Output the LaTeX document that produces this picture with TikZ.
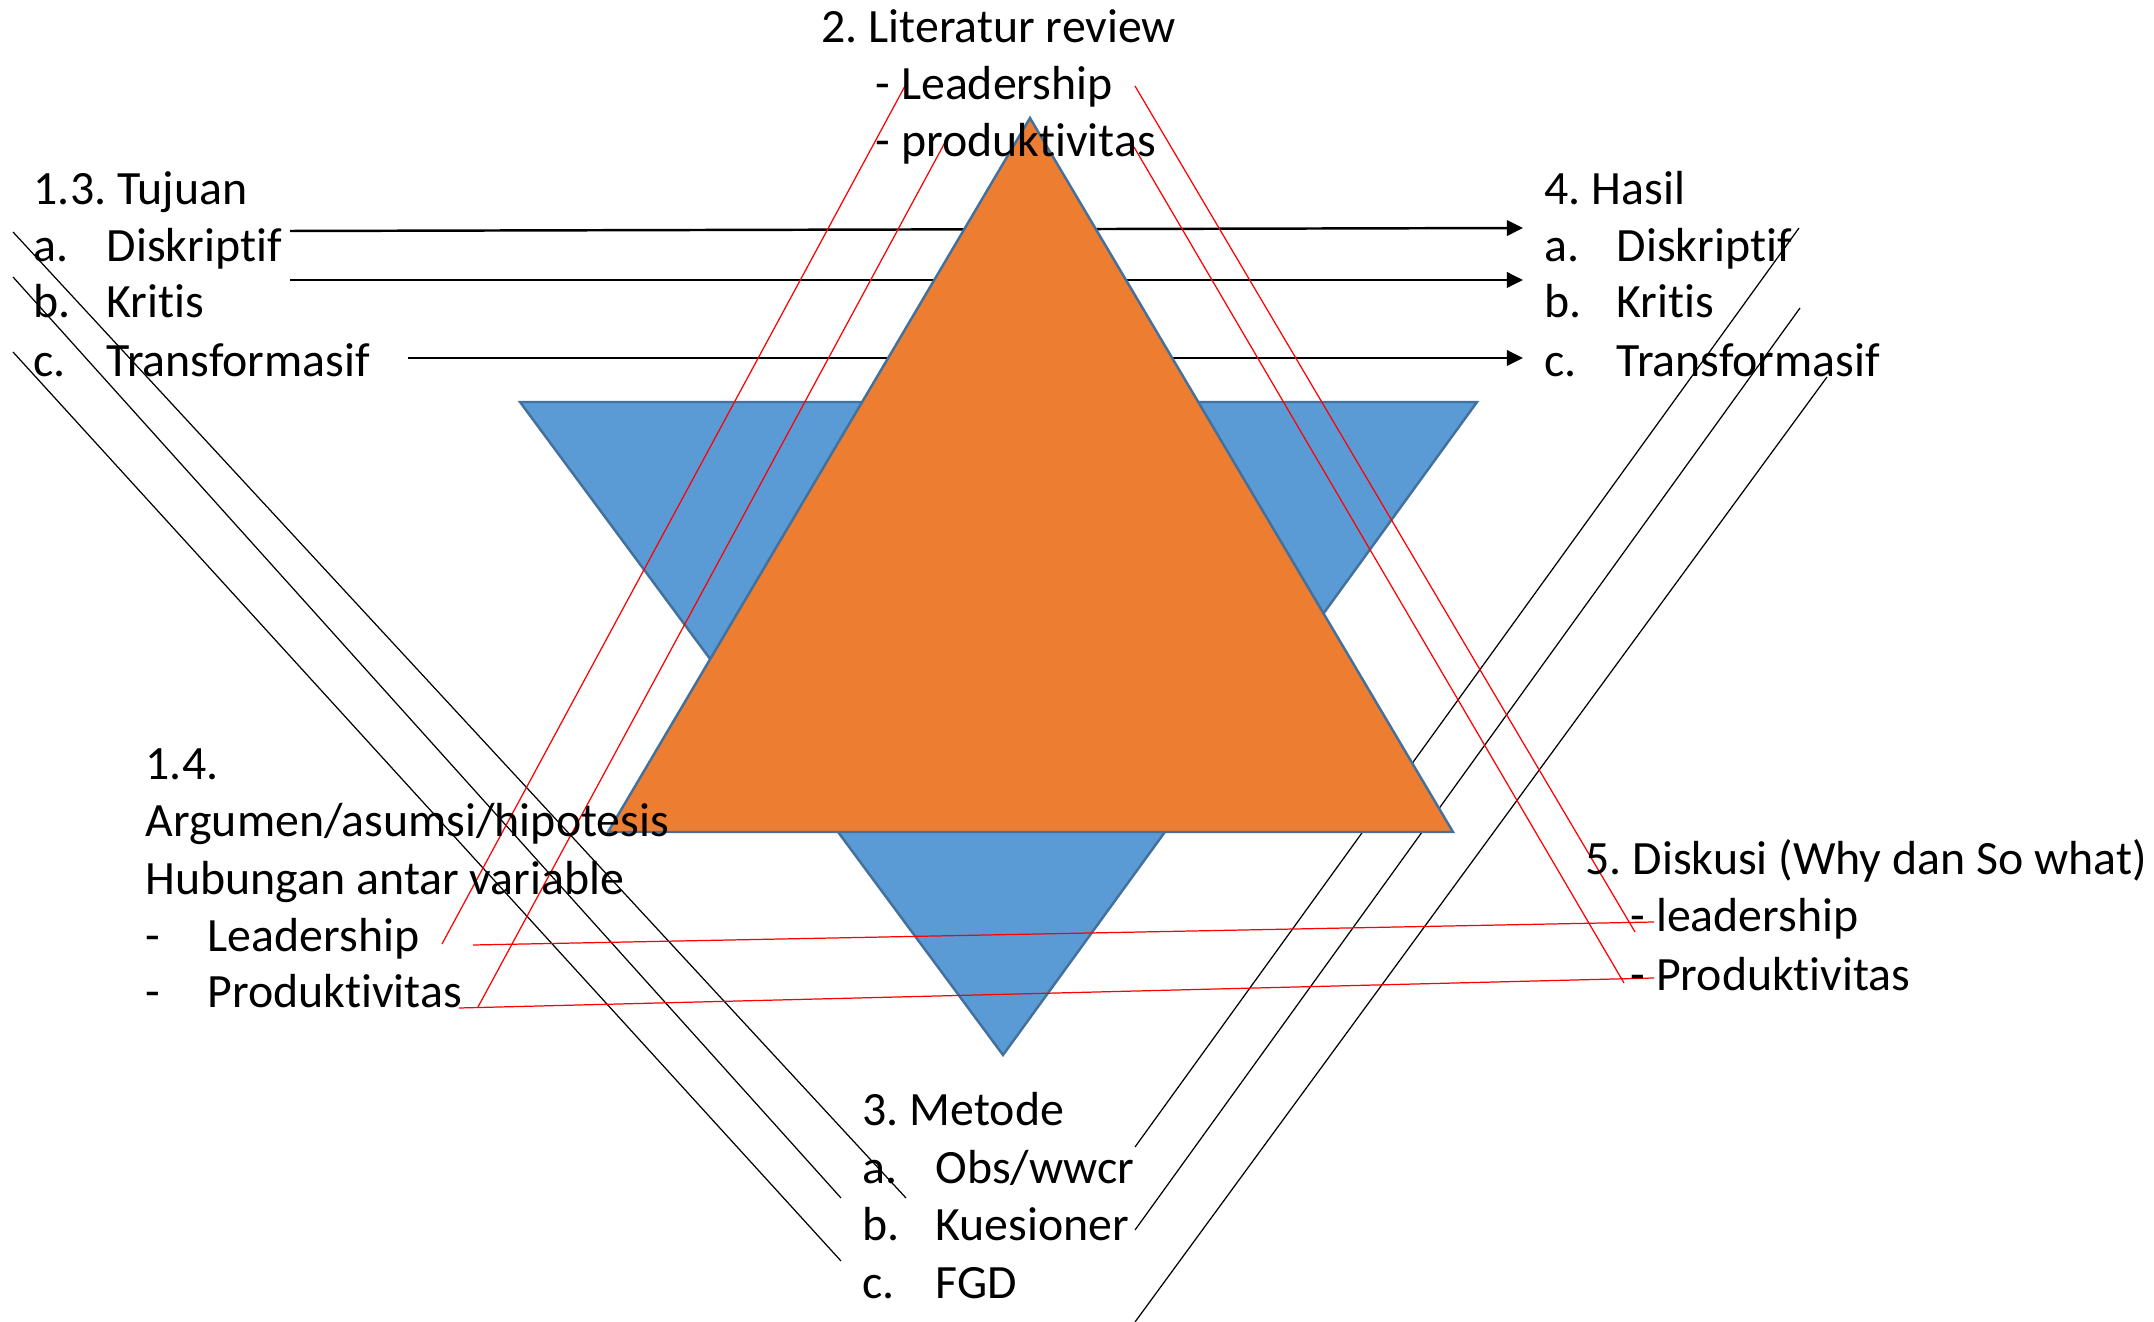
\documentclass[tikz,border=0pt]{standalone}
\usepackage{fontspec}
\setmainfont{Carlito}[Ligatures=NoCommon]
\usetikzlibrary{arrows.meta}
\usetikzlibrary{calc}

\definecolor{triblue}{HTML}{5B9BD5}
\definecolor{triorange}{HTML}{ED7D31}
\definecolor{triedge}{HTML}{41719C}

\newcommand{\itemlbl}[2]{\makebox[#1][l]{#2}}
\frenchspacing

\begin{document}
\begin{tikzpicture}[
      x=0.01cm, y=-0.01cm,
      txt/.style={anchor=base west, inner sep=0pt, font=\fontsize{13.6pt}{16pt}\selectfont},
      tri_blue/.style={fill=triblue, draw=triedge, line width=0.7pt},
      tri_orange/.style={fill=triorange, draw=triedge, line width=0.7pt},
      link/.style={black, line width=0.35pt},
      link_red/.style={red, line width=0.35pt},
      arr/.style={line width=0.7pt, -{Triangle[length=4.6pt,width=4.4pt]}},
    ]
    \useasboundingbox (0,0) rectangle (2154,1322);
    \coordinate (A1_a) at (290,231);
    \coordinate (A1_b) at (1523,228);
    \coordinate (A2_a) at (290,280);
    \coordinate (A2_b) at (1523,280);
    \coordinate (A3_a) at (408,358);
    \coordinate (A3_b) at (1523,358);
    \coordinate (LA_a) at (13,232);
    \coordinate (LA_b) at (906,1198);
    \coordinate (LB_a) at (13,277);
    \coordinate (LB_b) at (841,1198);
    \coordinate (LC_a) at (13,352);
    \coordinate (LC_b) at (841,1261);
    \coordinate (R1_a) at (1799,228);
    \coordinate (R1_b) at (1135,1147);
    \coordinate (R2_a) at (1800,308);
    \coordinate (R2_b) at (1135,1230);
    \coordinate (R3_a) at (1827,377);
    \coordinate (R3_b) at (1135,1322);
    % Draw the black cross lines.
    \draw[link] (LA_a) -- (LA_b);
    \draw[link] (LB_a) -- (LB_b);
    \draw[link] (LC_a) -- (LC_b);
    \draw[link] (R1_a) -- (R1_b);
    \draw[link] (R2_a) -- (R2_b);
    \draw[link] (R3_a) -- (R3_b);
    \draw[arr] (A1_a) -- (A1_b);
    \draw[arr] (A2_a) -- (A2_b);
    \draw[arr] (A3_a) -- (A3_b);

    % Draw the two triangles.
    \coordinate (B1) at (520,402);
    \coordinate (B2) at (1477,402);
    \coordinate (B3) at (1003,1055);
    \draw[tri_blue] (B1) -- (B2) -- (B3) -- cycle;
    \coordinate (O1) at (1030,118);
    \coordinate (O2) at (608,832);
    \coordinate (O3) at (1453,832);
    \draw[tri_orange] (O1) -- (O2) -- (O3) -- cycle;

    % Draw the red links.
    \coordinate (RL1_a) at (905,86);
    \coordinate (RL1_b) at (442,944);
    \coordinate (RL2_a) at (949,135);
    \coordinate (RL2_b) at (478,1007);
    \coordinate (RL3_a) at (1135,86);
    \coordinate (RL3_b) at (1635,932);
    \coordinate (RL4_a) at (1134,147);
    \coordinate (RL4_b) at (1624,983);
    \coordinate (RH1_a) at (473,945);
    \coordinate (RH1_b) at (1654,922);
    \coordinate (RH2_a) at (459,1008);
    \coordinate (RH2_b) at (1654,978);
    \draw[link_red] (RL1_a) -- (RL1_b);
    \draw[link_red] (RL2_a) -- (RL2_b);
    \draw[link_red] (RL3_a) -- (RL3_b);
    \draw[link_red] (RL4_a) -- (RL4_b);
    \draw[link_red] (RH1_a) -- (RH1_b);
    \draw[link_red] (RH2_a) -- (RH2_b);

    % Text blocks.
    \node[txt] (tuj) at (33,205) {1.3. Tujuan};
    \node[txt] (tuj_a) at (33,262) {\itemlbl{0.73cm}{a.}Diskriptif};
    \node[txt] (tuj_b) at (33,318) {\itemlbl{0.73cm}{b.}Kritis};
    \node[txt] (tuj_c) at (33,377) {\itemlbl{0.73cm}{c.}Transformasif};

    \node[txt] (lit) at (821,43) {2. Literatur review};
    \node[txt] (lit_a) at (875,100) {- Leadership};
    \node[txt] (lit_b) at (875,157) {- produktivitas};

    \node[txt] (hasil) at (1544,205) {4. Hasil};
    \node[txt] (hasil_a) at (1544,262) {\itemlbl{0.72cm}{a.}Diskriptif};
    \node[txt] (hasil_b) at (1544,318) {\itemlbl{0.72cm}{b.}Kritis};
    \node[txt] (hasil_c) at (1544,377) {\itemlbl{0.72cm}{c.}Transformasif};

    \node[txt] (arg) at (145,780) {1.4.};
    \node[txt] (arg_1) at (145,837) {Argumen/asumsi/hipotesis};
    \node[txt] (arg_2) at (145,895) {Hubungan antar variable};
    \node[txt] (arg_a) at (145,952) {\itemlbl{0.62cm}{-}Leadership};
    \node[txt] (arg_b) at (145,1008) {\itemlbl{0.62cm}{-}Produktivitas};

    \node[txt] (met) at (862,1125) {3. Metode};
    \node[txt] (met_a) at (862,1183) {\itemlbl{0.73cm}{a.}Obs/wwcr};
    \node[txt] (met_b) at (862,1240) {\itemlbl{0.73cm}{b.}Kuesioner};
    \node[txt] (met_c) at (862,1298) {\itemlbl{0.73cm}{c.}FGD};

    \node[txt] (disk) at (1585,875) {5. Diskusi (Why dan So what)};
    \node[txt] (disk_a) at (1630,932) {- leadership};
    \node[txt] (disk_b) at (1630,990) {- Produktivitas};
\end{tikzpicture}
\end{document}
